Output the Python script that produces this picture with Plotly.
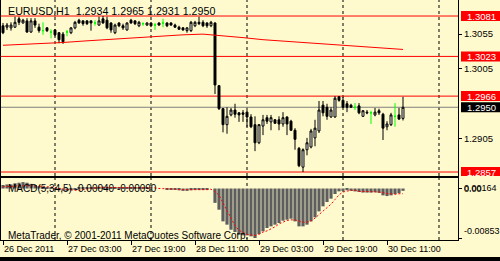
import pandas as pd
import plotly.graph_objects as go

# ---------------- data ----------------
open_ = [
    1.3067, 1.3065, 1.3064, 1.3065, 1.3077, 1.3071, 1.3074, 1.3058, 1.3074, 1.3065,
    1.3060, 1.3064, 1.3058, 1.3061, 1.3057, 1.3055, 1.3058, 1.3057, 1.3064, 1.3075,
    1.3074, 1.3074, 1.3074, 1.3071, 1.3068, 1.3077, 1.3075, 1.3071, 1.3057, 1.3071,
    1.3067, 1.3061, 1.3075, 1.3074, 1.3067, 1.3070, 1.3068, 1.3071, 1.3068, 1.3071,
    1.3071, 1.3071, 1.3071, 1.3068, 1.3065, 1.3064, 1.3060, 1.3060, 1.3067, 1.3072,
    1.3072, 1.3071, 1.3067, 1.3071, 1.2981, 1.2948, 1.2925, 1.2939, 1.2946, 1.2942,
    1.2942, 1.2943, 1.2936, 1.2925, 1.2899, 1.2923, 1.2935, 1.2929, 1.2932, 1.2932,
    1.2926, 1.2936, 1.2930, 1.2917, 1.2891, 1.2864, 1.2889, 1.2893, 1.2906, 1.2916,
    1.2953, 1.2950, 1.2936, 1.2936, 1.2965, 1.2960, 1.2955, 1.2953, 1.2950, 1.2952,
    1.2937, 1.2943, 1.2942, 1.2939, 1.2945, 1.2940, 1.2922, 1.2925, 1.2937, 1.2939,
    1.2934]
high = [
    1.3071, 1.3071, 1.3072, 1.3080, 1.3080, 1.3077, 1.3078, 1.3078, 1.3078, 1.3070,
    1.3072, 1.3065, 1.3062, 1.3062, 1.3058, 1.3058, 1.3061, 1.3065, 1.3074, 1.3077,
    1.3075, 1.3075, 1.3075, 1.3075, 1.3080, 1.3081, 1.3080, 1.3072, 1.3070, 1.3072,
    1.3070, 1.3072, 1.3077, 1.3075, 1.3074, 1.3072, 1.3072, 1.3072, 1.3071, 1.3072,
    1.3077, 1.3072, 1.3072, 1.3070, 1.3067, 1.3065, 1.3065, 1.3074, 1.3074, 1.3080,
    1.3075, 1.3072, 1.3074, 1.3072, 1.2982, 1.2949, 1.2950, 1.2949, 1.2955, 1.2943,
    1.2946, 1.2946, 1.2940, 1.2937, 1.2926, 1.2939, 1.2939, 1.2939, 1.2933, 1.2937,
    1.2943, 1.2937, 1.2932, 1.2920, 1.2893, 1.2891, 1.2906, 1.2919, 1.2932, 1.2959,
    1.2959, 1.2955, 1.2950, 1.2966, 1.2966, 1.2965, 1.2959, 1.2955, 1.2956, 1.2956,
    1.2946, 1.2946, 1.2945, 1.2949, 1.2948, 1.2942, 1.2930, 1.2942, 1.2956, 1.2949,
    1.2965]
low = [
    1.3055, 1.3061, 1.3060, 1.3064, 1.3068, 1.3070, 1.3057, 1.3057, 1.3064, 1.3057,
    1.3054, 1.3058, 1.3049, 1.3052, 1.3042, 1.3041, 1.3052, 1.3055, 1.3062, 1.3070,
    1.3067, 1.3068, 1.3060, 1.3067, 1.3067, 1.3070, 1.3062, 1.3057, 1.3055, 1.3065,
    1.3061, 1.3060, 1.3070, 1.3068, 1.3065, 1.3067, 1.3067, 1.3065, 1.3061, 1.3067,
    1.3065, 1.3065, 1.3067, 1.3064, 1.3061, 1.3060, 1.3057, 1.3058, 1.3065, 1.3068,
    1.3065, 1.3064, 1.3065, 1.2969, 1.2946, 1.2914, 1.2912, 1.2937, 1.2935, 1.2929,
    1.2929, 1.2922, 1.2920, 1.2887, 1.2897, 1.2910, 1.2926, 1.2917, 1.2926, 1.2917,
    1.2922, 1.2910, 1.2916, 1.2889, 1.2864, 1.2857, 1.2881, 1.2891, 1.2894, 1.2913,
    1.2937, 1.2932, 1.2935, 1.2935, 1.2958, 1.2949, 1.2943, 1.2949, 1.2946, 1.2940,
    1.2936, 1.2940, 1.2926, 1.2937, 1.2939, 1.2903, 1.2917, 1.2923, 1.2922, 1.2932,
    1.2931]
close = [
    1.3057, 1.3068, 1.3068, 1.3072, 1.3072, 1.3075, 1.3058, 1.3074, 1.3068, 1.3060,
    1.3060, 1.3060, 1.3058, 1.3054, 1.3047, 1.3044, 1.3058, 1.3064, 1.3072, 1.3071,
    1.3070, 1.3070, 1.3071, 1.3071, 1.3074, 1.3071, 1.3064, 1.3061, 1.3068, 1.3067,
    1.3064, 1.3071, 1.3071, 1.3070, 1.3072, 1.3070, 1.3071, 1.3067, 1.3068, 1.3068,
    1.3071, 1.3067, 1.3068, 1.3065, 1.3062, 1.3061, 1.3064, 1.3072, 1.3072, 1.3070,
    1.3067, 1.3067, 1.3072, 1.2982, 1.2948, 1.2925, 1.2937, 1.2946, 1.2940, 1.2939,
    1.2940, 1.2936, 1.2922, 1.2899, 1.2925, 1.2932, 1.2930, 1.2935, 1.2927, 1.2926,
    1.2935, 1.2926, 1.2917, 1.2904, 1.2866, 1.2889, 1.2899, 1.2916, 1.2920, 1.2946,
    1.2942, 1.2937, 1.2946, 1.2963, 1.2960, 1.2950, 1.2950, 1.2950, 1.2950, 1.2942,
    1.2945, 1.2942, 1.2942, 1.2943, 1.2942, 1.2920, 1.2926, 1.2939, 1.2937, 1.2933,
    1.2950]

# moving average, read every 5th bar
ma_bar = list(range(0, 101, 5))
ma_val = [1.3039, 1.3040, 1.3041, 1.3043, 1.3045, 1.3047, 1.3049, 1.3050, 1.3052, 1.3054,
          1.3055, 1.3053, 1.3050, 1.3047, 1.3045, 1.3043, 1.3040, 1.3038, 1.3036, 1.3035,
          1.3033]

macd_main = [
    0.0006, 0.0007, 0.0007, 0.0009, 0.0010, 0.0011, 0.0010, 0.0008, 0.0006, 0.0004,
    0.0003, 0.0002, 0.0001, -0.0001, -0.0003, -0.0004, -0.0004, -0.0003, -0.0001, 0.0001,
    0.0002, 0.0002, 0.0002, 0.0002, 0.0003, 0.0003, 0.0002, 0.0001, 0.0001, 0.0001,
    0.0001, 0.0001, 0.0002, 0.0002, 0.0002, 0.0001, 0.0001, 0.0000, 0.0000, 0.0000,
    0.0000, -0.0001, -0.0001, -0.0002, -0.0003, -0.0004, -0.0004, -0.0003, -0.0002, -0.0001,
    -0.0001, -0.0001, 0.0000, -0.00247, -0.00365, -0.00566, -0.00623, -0.0071, -0.0075, -0.00796,
    -0.00807, -0.00807, -0.00824, -0.00853, -0.00784, -0.00738, -0.0068, -0.00652, -0.00623, -0.00594,
    -0.00554, -0.00537, -0.0052, -0.00566, -0.00652, -0.00652, -0.00623, -0.00566, -0.00497, -0.00394,
    -0.00307, -0.00233, -0.00175, -0.00095, -0.00049, -0.0004, -0.0003, -0.0004, -0.0005, -0.0006,
    -0.0007, -0.0007, -0.0007, -0.00065, -0.00075, -0.00118, -0.0013, -0.00118, -0.00095, -0.0008,
    -0.0004]
macd_signal = [
    0.0003, 0.0003, 0.0004, 0.0004, 0.0005, 0.0005, 0.0005, 0.0005, 0.0005, 0.0004,
    0.0004, 0.0003, 0.0003, 0.0002, 0.0000, -0.0001, -0.0002, -0.0003, -0.0003, -0.0003,
    -0.0002, -0.0001, 0.0001, 0.0002, 0.0002, 0.0002, 0.0002, 0.0002, 0.0002, 0.0002,
    0.0001, 0.0001, 0.0001, 0.0001, 0.0002, 0.0002, 0.0002, 0.0001, 0.0001, 0.0000,
    0.0000, 0.0000, -0.0001, -0.0001, -0.0002, -0.0002, -0.0003, -0.0003, -0.0003, -0.0003,
    -0.0002, -0.0002, -0.0001, -0.0006, -0.0011, -0.0025, -0.0038, -0.0052, -0.0064, -0.0072,
    -0.0076, -0.0079, -0.0080, -0.0081, -0.0079, -0.0075, -0.0073, -0.0070, -0.0066, -0.0061,
    -0.0058, -0.0055, -0.0054, -0.0054, -0.0056, -0.0058, -0.0058, -0.0056, -0.0051, -0.0045,
    -0.0039, -0.0034, -0.0027, -0.0019, -0.0011, -0.0006, -0.0004, -0.0003, -0.0003, -0.0005,
    -0.0005, -0.0005, -0.0005, -0.0005, -0.0006, -0.0007, -0.0009, -0.0009, -0.0010, -0.0009,
    -0.0009]

level_lines = [1.3081, 1.3023, 1.2966, 1.2857]
price_ticks = [1.3055, 1.3005, 1.2905]
macd_scale_max = 0.00164
macd_scale_min = -0.00853

tick_times = ["2011-12-26 11:00", "2011-12-27 03:00", "2011-12-27 19:00", "2011-12-28 11:00",
              "2011-12-29 03:00", "2011-12-29 19:00", "2011-12-30 11:00"]
tick_labels = ["26 Dec 2011", "27 Dec 03:00", "27 Dec 19:00", "28 Dec 11:00",
               "29 Dec 03:00", "29 Dec 19:00", "30 Dec 11:00"]
day_separators = ["2011-12-27", "2011-12-28", "2011-12-29", "2011-12-30", "2011-12-31"]

symbol_title = "EURUSD,H1\u00a0\u00a0"
macd_title = "MACD(5,34,5) -0.00040 -0.00090"
copyright_text = "MetaTrader, \u00a9 2001-2011 MetaQuotes Software Corp."

# ---------------- figure ----------------
times = pd.date_range("2011-12-26 11:00", periods=len(open_), freq="h")
hour = pd.Timedelta(hours=1)

W, H = 500, 261
BG = "#FFFACD"
FONT = "Liberation Sans, Arial, sans-serif"

norm = [i for i in range(len(open_)) if open_[i] != close[i]]
doji = [i for i in range(len(open_)) if open_[i] == close[i]]

fig = go.Figure()

fig.add_trace(go.Candlestick(
    x=[times[i] for i in norm], open=[open_[i] for i in norm], high=[high[i] for i in norm],
    low=[low[i] for i in norm], close=[close[i] for i in norm],
    increasing=dict(line=dict(color="black", width=1), fillcolor="white"),
    decreasing=dict(line=dict(color="black", width=1), fillcolor="black"),
    whiskerwidth=0, hoverinfo="skip", showlegend=False, xaxis="x", yaxis="y"))
fig.add_trace(go.Candlestick(
    x=[times[i] for i in doji], open=[open_[i] for i in doji], high=[high[i] for i in doji],
    low=[low[i] for i in doji], close=[close[i] for i in doji],
    increasing=dict(line=dict(color="#00FF00", width=1), fillcolor="#00FF00"),
    decreasing=dict(line=dict(color="#00FF00", width=1), fillcolor="#00FF00"),
    whiskerwidth=0, hoverinfo="skip", showlegend=False, xaxis="x", yaxis="y"))
fig.add_trace(go.Scatter(
    x=[times[i] for i in ma_bar], y=ma_val, mode="lines",
    line=dict(color="#FF0000", width=1), hoverinfo="skip", showlegend=False,
    xaxis="x", yaxis="y"))

fig.add_trace(go.Bar(
    x=times, y=macd_main, marker=dict(color="#5E5E5E", line=dict(width=0)),
    hoverinfo="skip", showlegend=False, xaxis="x2", yaxis="y2"))
fig.add_trace(go.Scatter(
    x=times, y=macd_signal, mode="lines",
    line=dict(color="#FF0000", width=1, dash="2px,2px"),
    hoverinfo="skip", showlegend=False, xaxis="x2", yaxis="y2"))

# pixel geometry of panels
x_dom = [1 / W, 458 / W]
main_dom = [1 - 176 / H, 1.0]
sub_dom = [1 - 240 / H, 1 - 178 / H]

xrange = [times[0] - 0.5 * hour, times[0] + 113.75 * hour]

axis_common = dict(showgrid=False, zeroline=False, showline=True, linecolor="black",
                   linewidth=1, mirror=True, fixedrange=True)

fig.update_layout(
    width=W, height=H, margin=dict(l=0, r=0, t=0, b=0),
    paper_bgcolor=BG, plot_bgcolor=BG, bargap=0.2,
    font=dict(family=FONT, size=9, color="black"),
    xaxis=dict(domain=x_dom, range=xrange, anchor="y", showticklabels=False, ticks="",
               rangeslider=dict(visible=False), **axis_common),
    yaxis=dict(domain=main_dom, range=[1.28513, 1.31040], side="right", anchor="x",
               ticks="outside", ticklen=3, tickcolor="black", tickvals=price_ticks,
               tickformat=".4f", tickfont=dict(size=9.5, family=FONT), **axis_common),
    xaxis2=dict(domain=x_dom, range=xrange, anchor="y2", matches="x", ticks="outside",
                ticklen=4, tickcolor="black", tickvals=tick_times, ticktext=tick_labels,
                ticklabelposition="outside right", tickfont=dict(size=9, family=FONT),
                **axis_common),
    yaxis2=dict(domain=sub_dom, range=[-0.00887, 0.00181], side="right", anchor="x2",
                ticks="outside", ticklen=3, tickcolor="black",
                tickvals=[0, macd_scale_min], showticklabels=False, **axis_common),
)

shapes = []
for d in day_separators:
    for yr in ["y domain", "y2 domain"]:
        shapes.append(dict(type="line", xref="x", yref=yr, x0=d, x1=d, y0=0, y1=1,
                           line=dict(color="black", width=1, dash="3px,3px"), layer="below"))
for lv in level_lines:
    shapes.append(dict(type="line", xref="x domain", yref="y", x0=0, x1=1, y0=lv, y1=lv,
                       line=dict(color="#FF0000", width=1), layer="below"))
bid = close[-1]
shapes.append(dict(type="line", xref="x domain", yref="y", x0=0, x1=1, y0=bid, y1=bid,
                   line=dict(color="#808080", width=1), layer="below"))
# price label boxes on the right scale
for lv, col in [(v, "#FF0000") for v in level_lines] + [(bid, "black")]:
    shapes.append(dict(type="rect", xref="paper", yref="y", x0=461 / W, x1=1.0,
                       ysizemode="pixel", yanchor=lv, y0=-5, y1=5,
                       fillcolor=col, line=dict(width=0), layer="above"))
# bottom black strip
shapes.append(dict(type="rect", xref="paper", yref="paper", x0=0, x1=1, y0=0, y1=4 / H,
                   fillcolor="black", line=dict(width=0), layer="above"))
fig.update_layout(shapes=shapes)

ann = []
ohlc_text = " ".join(f"{v:.4f}" for v in (open_[-1], high[-1], low[-1], close[-1]))
ann.append(dict(text=symbol_title + ohlc_text, xref="paper", yref="paper", x=6 / W, y=1 - 11 / H,
                xanchor="left", yanchor="middle", showarrow=False,
                font=dict(size=10.7, color="black", family=FONT)))
for lv in level_lines + [bid]:
    ann.append(dict(text=f"{lv:.4f}", xref="paper", yref="y", x=465 / W, y=lv,
                    xanchor="left", yanchor="middle", showarrow=False,
                    font=dict(size=9.5, color="white", family=FONT)))
ann.append(dict(text=macd_title, xref="paper", yref="paper", x=6 / W, y=1 - 188.5 / H,
                xanchor="left", yanchor="middle", showarrow=False,
                font=dict(size=10, color="black", family=FONT)))
ann.append(dict(text=copyright_text, xref="paper", yref="paper", x=6 / W, y=1 - 235 / H,
                xanchor="left", yanchor="middle", showarrow=False,
                font=dict(size=10, color="black", family=FONT)))
ann.append(dict(text=f"{macd_scale_max:.5f}", xref="paper", yref="y2", x=462 / W,
                y=macd_scale_max, xanchor="left", yanchor="top", yshift=-2, showarrow=False,
                font=dict(size=9, color="black", family=FONT)))
ann.append(dict(text="0.00", xref="paper", yref="y2", x=462 / W, y=0,
                xanchor="left", yanchor="middle", showarrow=False,
                font=dict(size=9, color="black", family=FONT)))
ann.append(dict(text=f"{macd_scale_min:.5f}", xref="paper", yref="y2", x=462 / W,
                y=macd_scale_min, xanchor="left", yanchor="bottom", showarrow=False,
                font=dict(size=9, color="black", family=FONT)))
fig.update_layout(annotations=ann)

fig.write_html("out.html")
